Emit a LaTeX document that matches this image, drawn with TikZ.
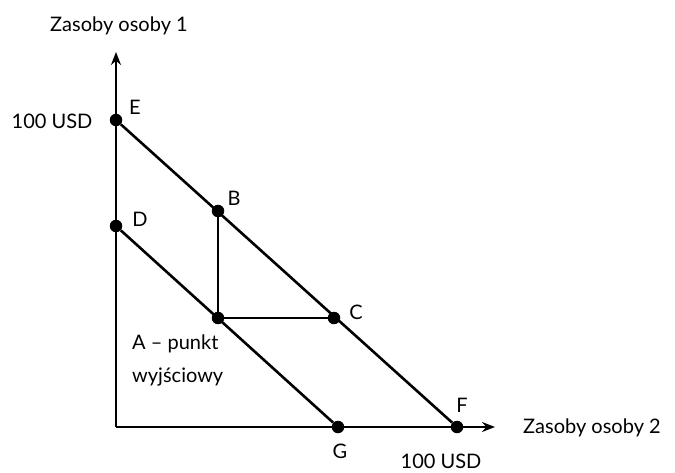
\documentclass[tikz,border=0pt]{standalone}
\usepackage{fontspec}
\setmainfont{Lato}
\usetikzlibrary{arrows.meta,positioning}

\begin{document}
\begin{tikzpicture}[x=1pt,y=-1pt,
    every node/.style={font=\fontsize{20}{23}\selectfont,inner sep=1pt},
    dot/.style={circle,fill=black,inner sep=0pt,minimum size=12.5pt},
    axis/.style={line width=1.8pt,-{Stealth[length=13pt,width=10pt]}},
    budget/.style={line width=2.6pt}]

    \useasboundingbox (0,0) rectangle (675,473);

    % axes
    \coordinate (O) at (116,427);
    \coordinate (ytip) at (116,52);
    \coordinate (xtip) at (495,427);
    \draw[axis] (O) -- (ytip);
    \draw[axis] (O) -- (xtip);

    % points
    \node[dot] (E) at (116,120) {};
    \node[dot] (D) at (116,226) {};
    \node[dot] (B) at (218,211) {};
    \node[dot] (A) at (218,318) {};
    \node[dot] (C) at (334,318) {};
    \node[dot] (G) at (338,427) {};
    \node[dot] (F) at (457,427) {};

    % budget lines
    \draw[budget] (E) -- (F);
    \draw[budget] (D) -- (G);
    \draw[budget] (B) -- (A) -- (C);

    % labels
    \node (Elab) at (135,107) {E};
    \node (Blab) at (234,198) {B};
    \node (Dlab) at (140,219) {D};
    \node (Clab) at (356,312) {C};
    \node (Flab) at (462,405) {F};
    \node (Glab) at (340,451) {G};
    \node (yval) at (52,121) {100 USD};
    \node (xval) at (441,461) {100 USD};
    \node (ytitle) at (119,26) {Zasoby osoby 1};
    \node[anchor=west] (xtitle) at (522,428) {Zasoby osoby 2};
    \node[anchor=north west,align=left,font=\fontsize{20}{33}\selectfont] (Alab) at (131,334)
      {A -- punkt\\wyjściowy};
\end{tikzpicture}
\end{document}
